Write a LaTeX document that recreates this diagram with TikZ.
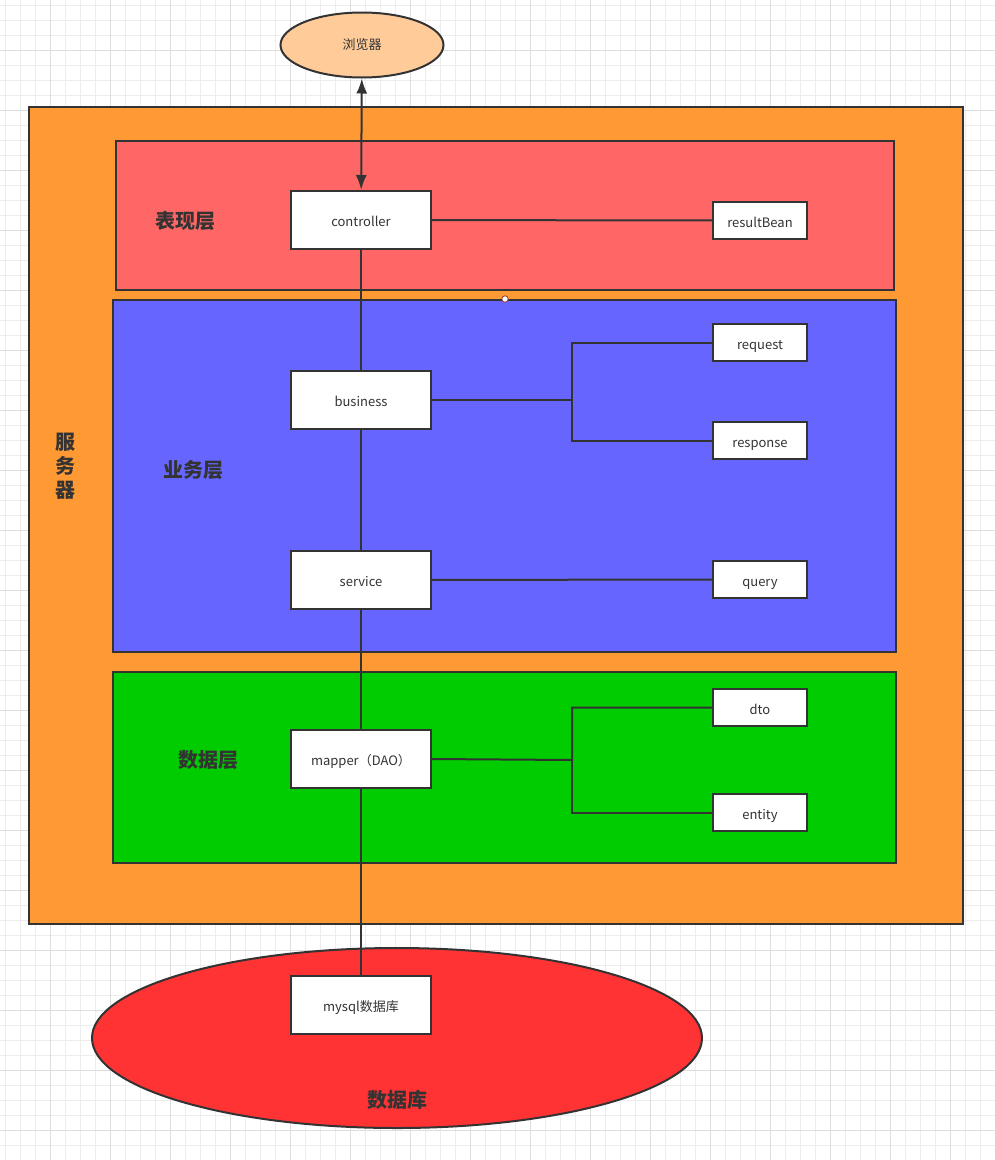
\documentclass[tikz,border=0pt]{standalone}
\usepackage{fontspec}
\setmainfont{Noto Sans CJK SC}
\usepackage{xcolor}
\usepackage{tikz}
\usetikzlibrary{arrows.meta}
\usetikzlibrary{shapes.geometric}

\definecolor{gridminor}{HTML}{EDEDED}
\definecolor{gridmajor}{HTML}{DEDEDE}
\definecolor{inkgray}{HTML}{333333}
\definecolor{serverorange}{HTML}{FF9933}
\definecolor{browserpeach}{HTML}{FFCC99}
\definecolor{layerred}{HTML}{FF6666}
\definecolor{layerblue}{HTML}{6666FF}
\definecolor{layergreen}{HTML}{00CC00}
\definecolor{dbred}{HTML}{FF3333}

\tikzset{
  layerbox/.style={draw=inkgray, line width=2pt},
  bigbox/.style={draw=inkgray, line width=2pt, fill=white, minimum width=140pt, minimum height=58pt, inner sep=0pt, text=inkgray, text height=13pt, text depth=0pt, font=\fontsize{13}{15}\selectfont},
  smallbox/.style={draw=inkgray, line width=2pt, fill=white, minimum width=94pt, minimum height=37pt, inner sep=0pt, text=inkgray, text height=13pt, text depth=0pt, font=\fontsize{13}{15}\selectfont},
  layerlabel/.style={text=inkgray, font=\fontsize{20}{24}\selectfont\bfseries},
  link/.style={draw=inkgray, line width=2pt}
}

\begin{document}
\begin{tikzpicture}[x=1pt, y=-1pt]
  \useasboundingbox[fill=white] (0,0) rectangle (995,1160);
  \foreach \x in {5,20,...,995}
    \draw[gridminor, line width=1pt] (\x,0) -- (\x,1160);
  \foreach \y in {5,20,...,1160}
    \draw[gridminor, line width=1pt] (0,\y) -- (995,\y);
  \foreach \x in {50,110,...,995}
    \draw[gridmajor, line width=1pt] (\x,0) -- (\x,1160);
  \foreach \y in {50,110,...,1160}
    \draw[gridmajor, line width=1pt] (0,\y) -- (995,\y);

  \draw[layerbox, fill=serverorange] (29,107) rectangle (963,924);
  \draw[layerbox, fill=layerred] (116,141) rectangle (894,290);
  \draw[layerbox, fill=layerblue] (113,300) rectangle (896,652);
  \draw[layerbox, fill=layergreen] (113,672) rectangle (896,863);
  \draw[draw=layerred!60!black, fill=white, line width=0.8pt] (505,299) circle (3.2pt);

  \node[draw=inkgray, line width=2pt, fill=browserpeach, ellipse, minimum width=163pt, minimum height=65pt, inner sep=0pt, text=inkgray, font=\fontsize{13}{15}\selectfont] (browser) at (362,45) {浏览器};
  \node[draw=inkgray, line width=2pt, fill=dbred, ellipse, minimum width=610pt, minimum height=180pt, inner sep=0pt] (database) at (397,1038) {};

  \node[layerlabel, align=center] (serverlabel) at (65,466) {服\\务\\器};
  \node[layerlabel] (viewlabel) at (185,221) {表现层};
  \node[layerlabel] (bizlabel) at (193,470) {业务层};
  \node[layerlabel] (datalabel) at (208,760) {数据层};
  \node[layerlabel] (dblabel) at (397,1100) {数据库};

  \node[bigbox] (ctrl) at (361,220) {controller};
  \node[bigbox] (business) at (361,400) {business};
  \node[bigbox] (service) at (361,580) {service};
  \node[bigbox] (mapper) at (361,759) {mapper（DAO）};
  \node[bigbox] (mysql) at (361,1005) {mysql数据库};

  \node[smallbox] (resultbean) at (760,220.5) {resultBean};
  \node[smallbox] (request) at (760,342.5) {request};
  \node[smallbox] (response) at (760,440.5) {response};
  \node[smallbox] (query) at (760,579.5) {query};
  \node[smallbox] (dto) at (760,707.5) {dto};
  \node[smallbox] (entity) at (760,812.5) {entity};

  \draw[link, {Latex[length=15pt, width=11pt]}-{Latex[length=15pt, width=11pt]}] (browser) -- (ctrl);
  \draw[link] (ctrl) -- (business);
  \draw[link] (business) -- (service);
  \draw[link] (service) -- (mapper);
  \draw[link] (mapper) -- (mysql);

  \draw[link] (ctrl) -- (resultbean);
  \draw[link] (service) -- (query);
  \draw[link] (business.east) -- (572,400) |- (request.west);
  \draw[link] (572,400) |- (response.west);
  \draw[link] (mapper.east) -- (572,760) |- (dto.west);
  \draw[link] (572,760) |- (entity.west);
\end{tikzpicture}
\end{document}
